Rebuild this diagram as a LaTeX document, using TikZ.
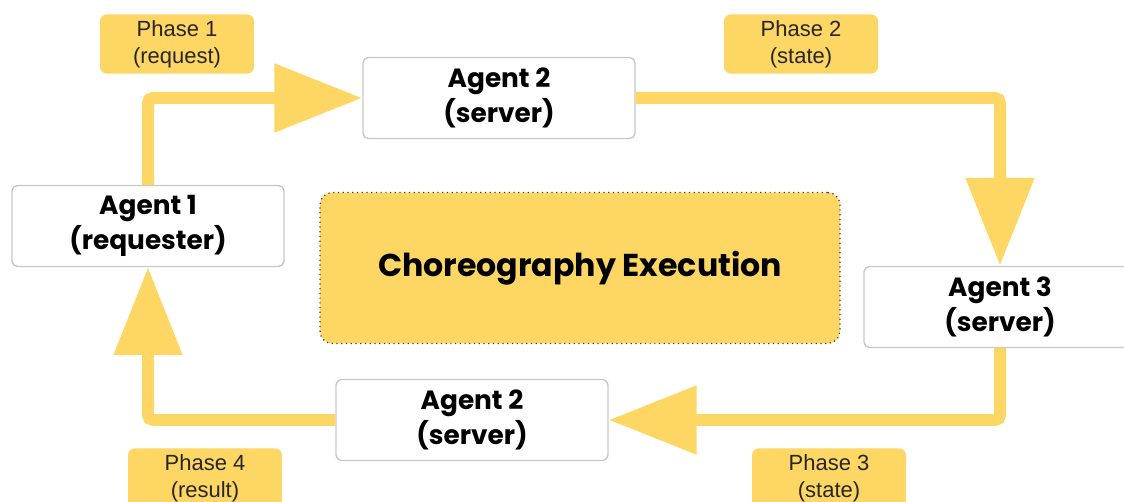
\documentclass[tikz,border=0pt]{standalone}
\usepackage{fontspec}
\setmainfont{Liberation Sans}
\newfontfamily\agentfont{Poppins}
\usetikzlibrary{arrows.meta}
\definecolor{phaseyellow}{RGB}{253,214,99}
\definecolor{boxgrey}{RGB}{200,200,200}

\begin{document}
\begin{tikzpicture}[x=0.02cm,y=-0.02cm,
	agent/.style={draw=boxgrey,fill=white,rounded corners=3pt,line width=0.8pt,
		minimum width=5.44cm,minimum height=1.62cm,align=center,
		font=\agentfont\bfseries\fontsize{15}{19.5}\selectfont},
	phase/.style={fill=phaseyellow,rounded corners=4pt,minimum width=3.08cm,
		minimum height=1.14cm,align=center,text=black!85,
		font=\fontsize{12.5}{15.5}\selectfont},
	flow/.style={draw=phaseyellow,line width=0.24cm,rounded corners=0.1cm,
		-{Triangle[length=1.76cm,width=1.32cm]}}]
	\useasboundingbox (0,0) rectangle (1124,502);

	% agents
	\node[agent] (a1) at (148,226) {Agent 1\\(requester)};
	\node[agent] (a2t) at (499,98) {Agent 2\\(server)};
	\node[agent] (a3) at (1000,307) {Agent 3\\(server)};
	\node[agent] (a2b) at (472,420) {Agent 2\\(server)};

	% centre
	\node[fill=phaseyellow,draw=black!75,dotted,line width=0.7pt,rounded corners=7pt,
		minimum width=10.4cm,minimum height=3.02cm,
		font=\agentfont\bfseries\fontsize{18}{22}\selectfont] (exec) at (580,268)
		{Choreography Execution};

	% phases
	\node[phase] (p1) at (177,44) {Phase 1\\(request)};
	\node[phase] (p2) at (801,44) {Phase 2\\(state)};
	\node[phase] (p3) at (829,478) {Phase 3\\(state)};
	\node[phase] (p4) at (205,478) {Phase 4\\(result)};

	\draw[flow] (a1.north) |- (a2t.west);
	\draw[flow] (a2t.east) -| (a3.north);
	\draw[flow] (a3.south) |- (a2b.east);
	\draw[flow] (a2b.west) -| (a1.south);
\end{tikzpicture}
\end{document}
